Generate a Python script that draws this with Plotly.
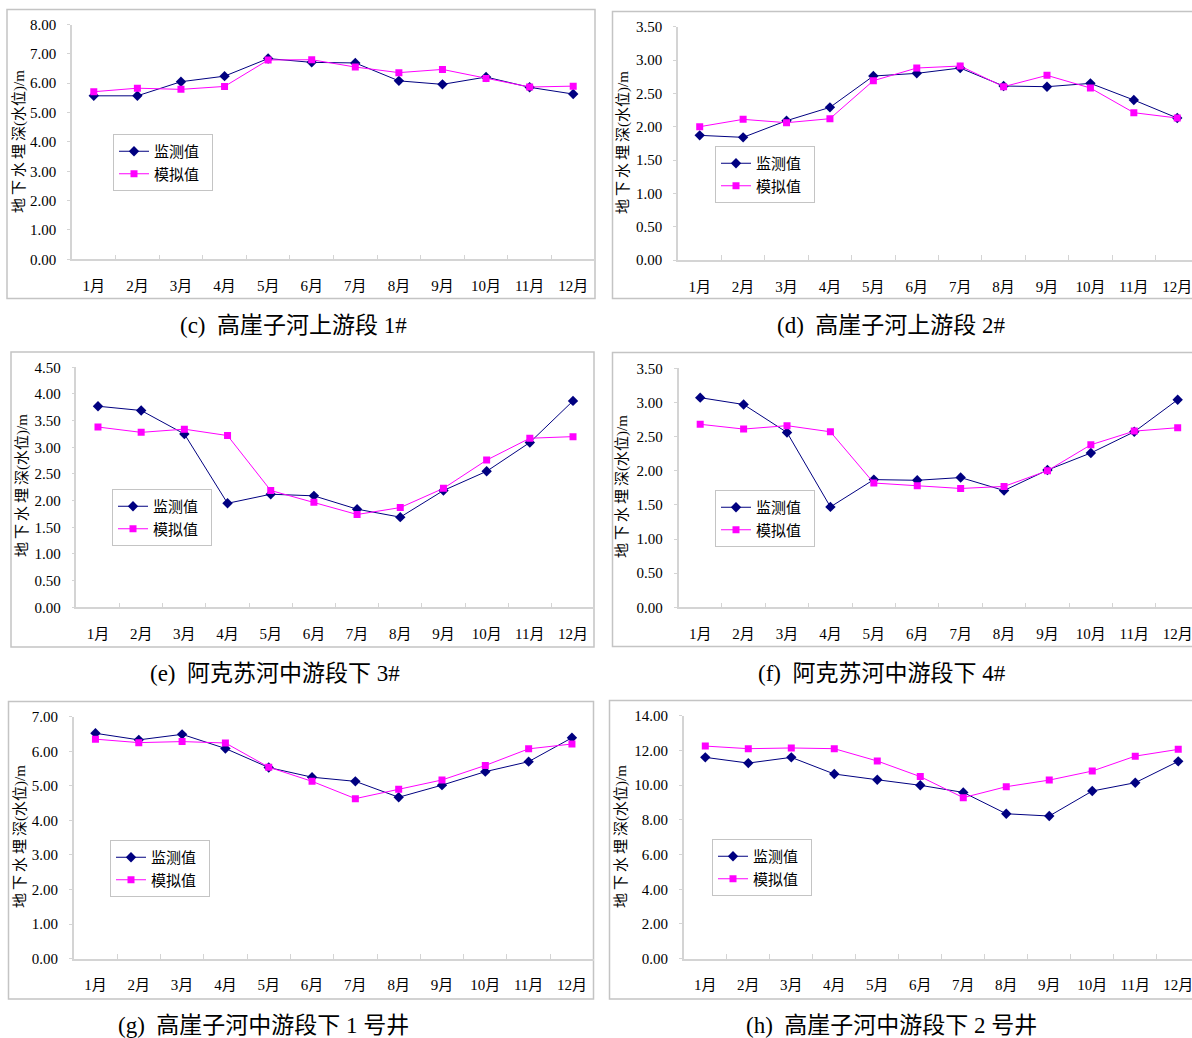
import plotly.graph_objects as go

months = ["1月", "2月", "3月", "4月", "5月", "6月", "7月", "8月", "9月", "10月", "11月", "12月"]
name_obs = "监测值"
name_sim = "模拟值"
ytitle = "地\u2009下\u2009水\u2009埋\u2009深(水位)/m"

c_obs = [5.57, 5.57, 6.05, 6.24, 6.84, 6.71, 6.69, 6.08, 5.96, 6.21, 5.86, 5.63]
c_sim = [5.71, 5.83, 5.79, 5.89, 6.79, 6.80, 6.55, 6.36, 6.47, 6.16, 5.87, 5.90]
d_obs = [1.87, 1.84, 2.09, 2.29, 2.76, 2.80, 2.88, 2.61, 2.60, 2.65, 2.40, 2.13]
d_sim = [2.00, 2.11, 2.06, 2.12, 2.69, 2.88, 2.91, 2.60, 2.77, 2.58, 2.21, 2.13]
e_obs = [3.77, 3.69, 3.25, 1.95, 2.12, 2.09, 1.84, 1.69, 2.19, 2.55, 3.09, 3.87]
e_sim = [3.38, 3.28, 3.34, 3.22, 2.19, 1.97, 1.74, 1.87, 2.23, 2.76, 3.17, 3.20]
f_obs = [3.07, 2.97, 2.56, 1.47, 1.87, 1.86, 1.90, 1.71, 2.01, 2.26, 2.57, 3.04]
f_sim = [2.68, 2.61, 2.66, 2.57, 1.82, 1.78, 1.74, 1.77, 2.00, 2.38, 2.58, 2.63]
g_obs = [6.52, 6.33, 6.49, 6.08, 5.53, 5.25, 5.13, 4.67, 5.02, 5.41, 5.70, 6.39]
g_sim = [6.35, 6.25, 6.28, 6.24, 5.54, 5.13, 4.63, 4.90, 5.17, 5.59, 6.07, 6.21]
h_obs = [11.60, 11.27, 11.60, 10.64, 10.31, 9.99, 9.58, 8.35, 8.22, 9.66, 10.14, 11.37]
h_sim = [12.25, 12.10, 12.14, 12.10, 11.39, 10.49, 9.28, 9.91, 10.29, 10.81, 11.67, 12.06]

captions = ["(c)\u00a0\u00a0高崖子河上游段 1#", "(d)\u00a0\u00a0高崖子河上游段 2#",
            "(e)\u00a0\u00a0阿克苏河中游段下 3#", "(f)\u00a0\u00a0阿克苏河中游段下 4#",
            "(g)\u00a0\u00a0高崖子河中游段下 1 号井", "(h)\u00a0\u00a0高崖子河中游段下 2 号井"]
y_max = [8, 3.5, 4.5, 3.5, 7, 14]
y_dtick = [1, 0.5, 0.5, 0.5, 1, 2]
series = [(c_obs, c_sim), (d_obs, d_sim), (e_obs, e_sim), (f_obs, f_sim), (g_obs, g_sim), (h_obs, h_sim)]

W, H = 1192, 1038
def px(x):
    return x / W
def py(y):
    return 1 - y / H

# layout geometry in pixels
geo = [
    dict(l=72, r=595, t=24.5, b=259.3, xend=11.5, frame=(7, 595, 9.5, 298.5), leg=(113, 134), yt=(19, 142), cap=(293, 325)),
    dict(l=678, r=1192, t=26.7, b=260, xend=11.34, frame=(612.5, 1260, 11.5, 298.5), leg=(715, 146), yt=(623, 143), cap=(891, 325)),
    dict(l=76.4, r=594.6, t=367.3, b=607.3, xend=11.5, frame=(11, 594, 352, 647), leg=(112, 489), yt=(22, 486), cap=(275, 673)),
    dict(l=678.5, r=1192, t=368.3, b=607.3, xend=11.33, frame=(612.5, 1260, 352.5, 646.5), leg=(715, 490), yt=(623, 487), cap=(882, 673)),
    dict(l=73.8, r=593.6, t=716.7, b=958.7, xend=11.5, frame=(8.5, 593.5, 701.5, 999), leg=(110, 840), yt=(20, 837), cap=(263, 1025)),
    dict(l=683.8, r=1192, t=715.7, b=958.7, xend=11.32, frame=(609.5, 1260, 700.5, 999), leg=(712, 839), yt=(621, 837), cap=(891, 1025)),
]

serif = "Liberation Serif, Times New Roman, Noto Sans CJK SC, serif"
axis_col = "#d4d4d4"
frame_col = "#c4c4c4"

fig = go.Figure()
layout = dict(width=W, height=H, margin=dict(l=0, r=0, t=0, b=0, pad=0, autoexpand=False),
              paper_bgcolor="white", plot_bgcolor="white", showlegend=True)
shapes = []
annotations = []

for i, (g, (obs, sim)) in enumerate(zip(geo, series)):
    k = "" if i == 0 else str(i + 1)
    legname = "legend" + k
    fig.add_trace(go.Scatter(x=months, y=obs, name=name_obs + "\u00a0\u00a0", mode="lines+markers",
                             line=dict(color="#000080", width=1),
                             marker=dict(symbol="diamond", size=8, color="#000080"),
                             xaxis="x" + k, yaxis="y" + k, legend=legname))
    fig.add_trace(go.Scatter(x=months, y=sim, name=name_sim + "\u00a0\u00a0", mode="lines+markers",
                             line=dict(color="#FF00FF", width=1),
                             marker=dict(symbol="square", size=7, color="#FF00FF"),
                             xaxis="x" + k, yaxis="y" + k, legend=legname))
    layout["xaxis" + k] = dict(domain=[px(g["l"]), min(1.0, px(g["r"]))], anchor="y" + k,
                               type="category", range=[-0.5, g["xend"]], automargin=False,
                               showline=True, linecolor=axis_col, linewidth=1.5,
                               ticks="inside", tickson="boundaries", ticklen=5, tickcolor=axis_col,
                               showgrid=False, zeroline=False, ticklabelstandoff=12,
                               tickfont=dict(family=serif, size=15, color="black"))
    layout["yaxis" + k] = dict(domain=[py(g["b"]), py(g["t"])], anchor="x" + k,
                               range=[0, y_max[i]], dtick=y_dtick[i], tick0=0, tickformat=".2f",
                               automargin=False,
                               showline=True, linecolor=axis_col, linewidth=1.5,
                               ticks="outside", ticklen=3, tickcolor=axis_col,
                               showgrid=False, zeroline=False, ticklabelstandoff=8,
                               tickfont=dict(family=serif, size=15, color="black"))
    layout[legname] = dict(x=px(g["leg"][0]), y=py(g["leg"][1]), xanchor="left", yanchor="top",
                           bgcolor="white", bordercolor=frame_col, borderwidth=1,
                           font=dict(family=serif, size=15, color="black"),
                           tracegroupgap=0)
    fx0, fx1, fy0, fy1 = g["frame"]
    shapes.append(dict(type="rect", xref="paper", yref="paper", x0=px(fx0), x1=px(fx1),
                       y0=py(fy1), y1=py(fy0), line=dict(color=frame_col, width=1.5), layer="below"))
    annotations.append(dict(text=ytitle, xref="paper", yref="paper", x=px(g["yt"][0]), y=py(g["yt"][1]),
                            textangle=-90, showarrow=False, xanchor="center", yanchor="middle",
                            font=dict(family=serif, size=15, color="black")))
    annotations.append(dict(text=captions[i], xref="paper", yref="paper", x=px(g["cap"][0]), y=py(g["cap"][1]),
                            showarrow=False, xanchor="center", yanchor="middle",
                            font=dict(family=serif, size=23, color="black")))

layout["shapes"] = shapes
layout["annotations"] = annotations
fig.update_layout(**layout)

post = ("document.documentElement.style.margin='0';document.documentElement.style.overflow='hidden';"
        "document.body.style.margin='0';document.body.style.overflow='hidden';"
        "var gd=document.getElementById('{plot_id}');"
        "gd.style.position='fixed';gd.style.left='0px';gd.style.top='0px';")
fig.write_html("out.html", config={"displayModeBar": False}, post_script=post)
